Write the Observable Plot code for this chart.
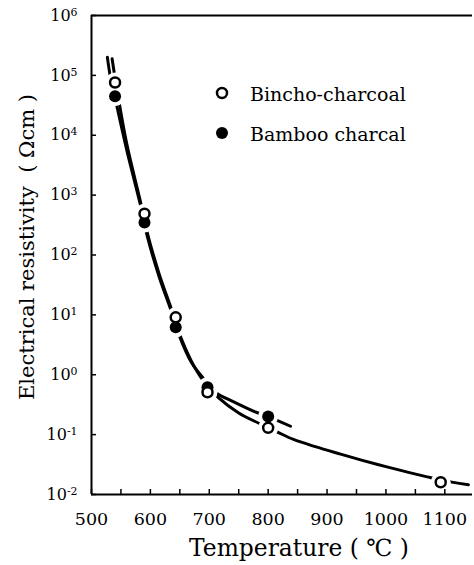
<!DOCTYPE html>
<html>
<head>
<meta charset="utf-8">
<script src="https://cdn.jsdelivr.net/npm/d3@7"></script>
<script src="https://cdn.jsdelivr.net/npm/@observablehq/plot@0.6"></script>
<style>
  body { margin: 0; background: #fff; }
  #wrap { position: relative; width: 474px; height: 565px; }
</style>
</head>
<body>
<div id="wrap"></div>
<script>
// ---- data ----
const binchoTemp = [540, 590, 643, 697, 800, 1093];
const binchoRho  = [7.6e4, 490, 9.1, 0.51, 0.13, 0.016];
const bambooTemp = [540, 590, 643, 697, 800];
const bambooRho  = [4.5e4, 350, 6.2, 0.62, 0.20];

// fitted curves drawn in the figure
const binchoCurveTemp = [535, 541, 560, 583, 595, 615, 637, 648, 670, 690, 716, 750, 784, 816, 843, 880, 923, 960, 1000, 1040, 1070, 1094, 1140];
const binchoCurveRho  = [1.9e5, 7.9e4, 7.1e3, 790, 230, 48, 11.5, 5.2, 1.66, 0.79, 0.41, 0.23, 0.155, 0.11, 0.083, 0.063, 0.0473, 0.0372, 0.0292, 0.0232, 0.0197, 0.0174, 0.0145];
const bambooCurveTemp = [527, 532, 540, 560, 583, 595, 615, 637, 648, 670, 690, 710, 745, 778, 800, 838];
const bambooCurveRho  = [2.0e5, 9.5e4, 4.2e4, 5.6e3, 690, 200, 43, 10.5, 4.8, 1.58, 0.87, 0.51, 0.34, 0.24, 0.20, 0.138];

const xTicks = [500, 600, 700, 800, 900, 1000, 1100];
const xMinorTicks = [550, 650, 750, 850, 950, 1050];
const yTicks = [1e-2, 1e-1, 1, 10, 100, 1e3, 1e4, 1e5, 1e6];

const legendLabels = ["Bincho-charcoal", "Bamboo charcal"];
const xTitle = "Temperature ( \u2103 )";
const yTitle = "Electrical resistivity  ( \u03A9cm )";

// ---- tables ----
const bincho = binchoTemp.map((t, i) => ({t, r: binchoRho[i]}));
const bamboo = bambooTemp.map((t, i) => ({t, r: bambooRho[i]}));
const binchoCurve = binchoCurveTemp.map((t, i) => ({t, r: binchoCurveRho[i]}));
const bambooCurve = bambooCurveTemp.map((t, i) => ({t, r: bambooCurveRho[i]}));

const FONT = "'DejaVu Serif', 'Liberation Serif', serif";

const plot = Plot.plot({
  width: 474,
  height: 565,
  marginLeft: 91,
  marginRight: 2,
  marginTop: 15,
  marginBottom: 71,
  style: {fontFamily: FONT, background: "white", color: "black"},
  x: {domain: [500, 1147]},
  y: {type: "log", domain: [1e-2, 1e6]},
  marks: [
    Plot.line(binchoCurve, {x: "t", y: "r", curve: "catmull-rom", stroke: "black", strokeWidth: 3}),
    Plot.line(bambooCurve, {x: "t", y: "r", curve: "catmull-rom", stroke: "black", strokeWidth: 3}),
    // white halos break the lines around the markers
    Plot.dot(bamboo.concat(bincho), {x: "t", y: "r", r: 10, fill: "white", stroke: null}),
    Plot.dot(bamboo, {x: "t", y: "r", r: 6, fill: "black", stroke: null}),
    Plot.dot(bincho, {x: "t", y: "r", r: 5, fill: "white", stroke: "black", strokeWidth: 2.5}),
    // frame
    Plot.ruleY([1e6], {stroke: "black", strokeWidth: 2}),
    Plot.ruleX([500], {stroke: "black", strokeWidth: 2}),
    Plot.ruleY([1e-2], {stroke: "black", strokeWidth: 2}),
    // axes
    Plot.axisX(xMinorTicks, {tickSize: -5, tickFormat: () => "", label: null, strokeWidth: 1.5}),
    Plot.axisX(xTicks, {tickSize: -5, tickPadding: 23.5, fontSize: 17.5, label: null, strokeWidth: 1.5, tickFormat: d => String(d)}),
    Plot.axisY(yTicks, {tickSize: -5, tickPadding: 19, fontSize: 16, label: null, strokeWidth: 1.5,
      tickFormat: d => `10^${Math.round(Math.log10(d))}`}),
    // titles
    Plot.text([xTitle], {frameAnchor: "bottom", textAnchor: "middle", lineAnchor: "middle", dx: 17, dy: 53.5, fontSize: 23.4, fill: "black"}),
    Plot.text([yTitle], {frameAnchor: "left", textAnchor: "middle", lineAnchor: "middle", rotate: -90, dx: -64.7, dy: -8, fontSize: 21, fill: "black"})
  ]
});

// superscript exponents on the y tick labels
d3.select(plot).selectAll('g[aria-label="y-axis tick label"] text').each(function() {
  const parts = this.textContent.split("^");
  if (parts.length !== 2) return;
  const sel = d3.select(this);
  sel.text(null);
  sel.append("tspan").text(parts[0]);
  sel.append("tspan").attr("dy", "-0.45em").attr("font-size", "0.68em").text(parts[1]);
});

// legend inside the plot area
const lg = d3.select(plot).append("g")
  .attr("font-family", FONT).attr("font-size", 19).attr("fill", "black")
  .attr("text-anchor", "start");
legendLabels.forEach((label, i) => {
  const cy = 93 + i * 40;
  lg.append("circle").attr("cx", 222).attr("cy", cy)
    .attr("r", i === 0 ? 5 : 6)
    .attr("fill", i === 0 ? "white" : "black")
    .attr("stroke", i === 0 ? "black" : "none")
    .attr("stroke-width", 2.5);
  lg.append("text").attr("x", 250).attr("y", cy + 8).attr("text-anchor", "start").text(label);
});

document.getElementById("wrap").appendChild(plot);
</script>
</body>
</html>
